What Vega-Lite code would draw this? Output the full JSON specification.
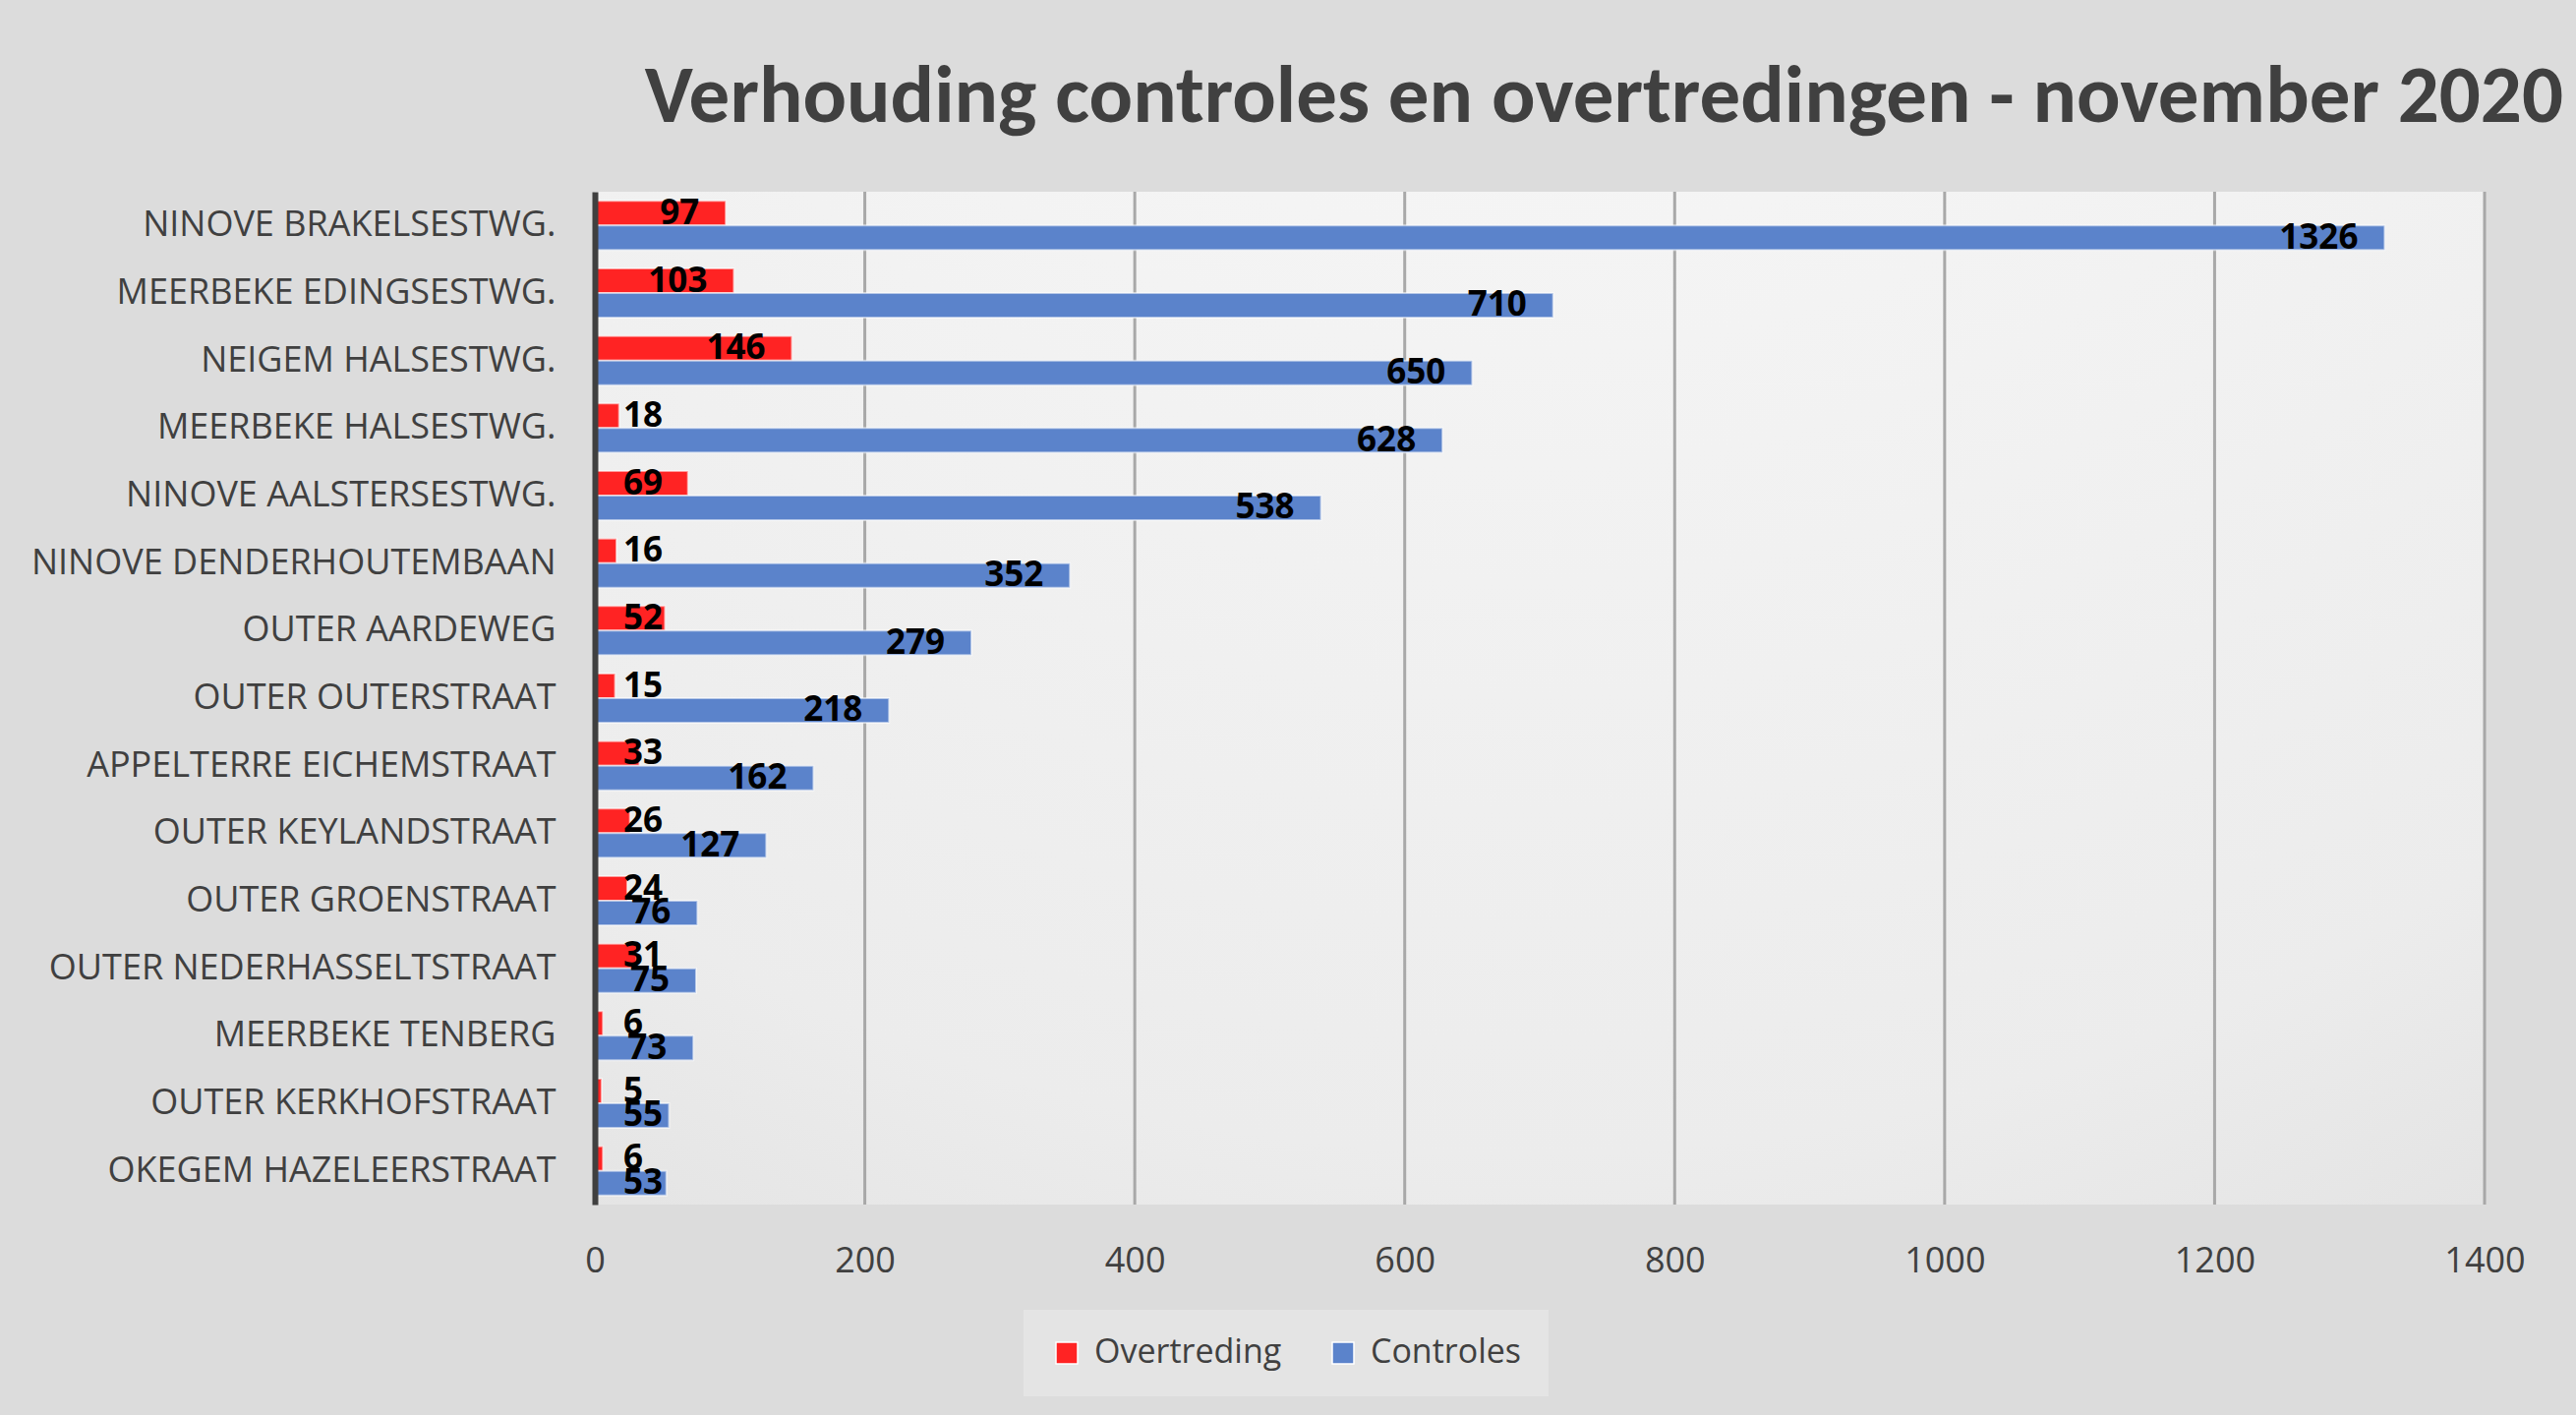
{
  "$schema": "https://vega.github.io/schema/vega-lite/v6.json",
  "width": 1922,
  "height": 1030,
  "autosize": {"type": "none"},
  "padding": {"left": 605, "top": 195, "right": 93, "bottom": 214},
  "background": "#dcdcdc",
  "title": {
    "text": "Verhouding controles en overtredingen  - november 2020",
    "anchor": "end",
    "frame": "group",
    "dx": 80,
    "dy": 83,
    "offset": 70,
    "baseline": "alphabetic",
    "font": "Carlito, Liberation Sans Narrow, Open Sans, sans-serif",
    "fontSize": 83,
    "fontWeight": "bold",
    "color": "#404040"
  },
  "config": {
    "view": {"stroke": null},
    "font": "Open Sans"
  },
  "datasets": {
    "tellingen": [
      {"locatie": "NINOVE BRAKELSESTWG.", "reeks": "Overtreding", "aantal": 97},
      {"locatie": "NINOVE BRAKELSESTWG.", "reeks": "Controles", "aantal": 1326},
      {"locatie": "MEERBEKE EDINGSESTWG.", "reeks": "Overtreding", "aantal": 103},
      {"locatie": "MEERBEKE EDINGSESTWG.", "reeks": "Controles", "aantal": 710},
      {"locatie": "NEIGEM HALSESTWG.", "reeks": "Overtreding", "aantal": 146},
      {"locatie": "NEIGEM HALSESTWG.", "reeks": "Controles", "aantal": 650},
      {"locatie": "MEERBEKE HALSESTWG.", "reeks": "Overtreding", "aantal": 18},
      {"locatie": "MEERBEKE HALSESTWG.", "reeks": "Controles", "aantal": 628},
      {"locatie": "NINOVE AALSTERSESTWG.", "reeks": "Overtreding", "aantal": 69},
      {"locatie": "NINOVE AALSTERSESTWG.", "reeks": "Controles", "aantal": 538},
      {"locatie": "NINOVE DENDERHOUTEMBAAN", "reeks": "Overtreding", "aantal": 16},
      {"locatie": "NINOVE DENDERHOUTEMBAAN", "reeks": "Controles", "aantal": 352},
      {"locatie": "OUTER AARDEWEG", "reeks": "Overtreding", "aantal": 52},
      {"locatie": "OUTER AARDEWEG", "reeks": "Controles", "aantal": 279},
      {"locatie": "OUTER OUTERSTRAAT", "reeks": "Overtreding", "aantal": 15},
      {"locatie": "OUTER OUTERSTRAAT", "reeks": "Controles", "aantal": 218},
      {"locatie": "APPELTERRE EICHEMSTRAAT", "reeks": "Overtreding", "aantal": 33},
      {"locatie": "APPELTERRE EICHEMSTRAAT", "reeks": "Controles", "aantal": 162},
      {"locatie": "OUTER KEYLANDSTRAAT", "reeks": "Overtreding", "aantal": 26},
      {"locatie": "OUTER KEYLANDSTRAAT", "reeks": "Controles", "aantal": 127},
      {"locatie": "OUTER GROENSTRAAT", "reeks": "Overtreding", "aantal": 24},
      {"locatie": "OUTER GROENSTRAAT", "reeks": "Controles", "aantal": 76},
      {"locatie": "OUTER NEDERHASSELTSTRAAT", "reeks": "Overtreding", "aantal": 31},
      {"locatie": "OUTER NEDERHASSELTSTRAAT", "reeks": "Controles", "aantal": 75},
      {"locatie": "MEERBEKE TENBERG", "reeks": "Overtreding", "aantal": 6},
      {"locatie": "MEERBEKE TENBERG", "reeks": "Controles", "aantal": 73},
      {"locatie": "OUTER KERKHOFSTRAAT", "reeks": "Overtreding", "aantal": 5},
      {"locatie": "OUTER KERKHOFSTRAAT", "reeks": "Controles", "aantal": 55},
      {"locatie": "OKEGEM HAZELEERSTRAAT", "reeks": "Overtreding", "aantal": 6},
      {"locatie": "OKEGEM HAZELEERSTRAAT", "reeks": "Controles", "aantal": 53}
    ]
  },
  "data": {"name": "tellingen"},
  "layer": [
    {
      "data": {"values": [{"vlak": "achtergrond"}]},
      "mark": {
        "type": "rect",
        "fill": {
          "gradient": "radial",
          "x1": 0.49, "y1": -0.19, "r1": 0,
          "x2": 0.49, "y2": -0.19, "r2": 1.35,
          "stops": [
            {"offset": 0, "color": "#fdfdfd"},
            {"offset": 0.15, "color": "#f8f8f8"},
            {"offset": 0.69, "color": "#ececec"},
            {"offset": 0.83, "color": "#e2e2e2"},
            {"offset": 1, "color": "#d6d6d6"}
          ]
        }
      },
      "encoding": {}
    },
    {
      "data": {"values": [{"raster": 200}, {"raster": 400}, {"raster": 600}, {"raster": 800}, {"raster": 1000}, {"raster": 1200}, {"raster": 1400}]},
      "mark": {"type": "rule", "color": "#a8a8a8", "strokeWidth": 3},
      "encoding": {
        "x": {"field": "raster", "type": "quantitative"}
      }
    },
    {
      "mark": {"type": "bar", "stroke": "#ffffff", "strokeOpacity": 0.55, "strokeWidth": 2},
      "encoding": {
        "y": {
          "field": "locatie",
          "type": "nominal",
          "sort": null,
          "scale": {"paddingInner": 0.272, "paddingOuter": 0.136},
          "axis": {
            "title": null,
            "domain": true,
            "domainColor": "#404040",
            "domainWidth": 6,
            "ticks": false,
            "grid": false,
            "labelFont": "Open Sans",
            "labelFontSize": 36,
            "labelColor": "#404040",
            "labelPadding": 40,
            "labelLimit": 800,
            "zindex": 1
          }
        },
        "yOffset": {"field": "reeks", "type": "nominal", "sort": ["Overtreding", "Controles"]},
        "x": {
          "field": "aantal",
          "type": "quantitative",
          "scale": {"domain": [0, 1400], "nice": false},
          "axis": {
            "title": null,
            "values": [0, 200, 400, 600, 800, 1000, 1200, 1400],
            "format": "d",
            "grid": false,
            "domain": false,
            "ticks": false,
            "labelFont": "Open Sans",
            "labelFontSize": 36,
            "labelColor": "#404040",
            "labelPadding": 40,
            "labelFlush": false,
            "zindex": 1
          }
        },
        "color": {
          "field": "reeks",
          "type": "nominal",
          "scale": {"domain": ["Overtreding", "Controles"], "range": ["#ff2323", "#5b83cb"]},
          "legend": {
            "orient": "none",
            "legendX": 436,
            "legendY": 1137,
            "direction": "horizontal",
            "title": null,
            "symbolType": "square",
            "symbolSize": 484,
            "symbolStrokeColor": "#ffffff",
            "symbolStrokeWidth": 1.5,
            "symbolOpacity": 1,
            "labelFont": "Open Sans",
            "labelFontSize": 34,
            "labelColor": "#404040",
            "labelLimit": 500,
            "labelOffset": 11,
            "columnPadding": 45,
            "padding": 27,
            "fillColor": "#e4e4e4"
          }
        }
      }
    },
    {
      "transform": [{"filter": "datum.aantal >= 70"}],
      "mark": {"type": "text", "align": "right", "baseline": "middle", "dx": -27, "font": "Open Sans", "fontSize": 35, "fontWeight": "bold", "color": "#000000"},
      "encoding": {
        "y": {"field": "locatie", "type": "nominal", "sort": null},
        "yOffset": {"field": "reeks", "type": "nominal", "sort": ["Overtreding", "Controles"]},
        "x": {"field": "aantal", "type": "quantitative"},
        "text": {"field": "aantal", "type": "quantitative"}
      }
    },
    {
      "transform": [{"filter": "datum.aantal < 70"}],
      "mark": {"type": "text", "align": "left", "baseline": "middle", "dx": 29, "font": "Open Sans", "fontSize": 35, "fontWeight": "bold", "color": "#000000"},
      "encoding": {
        "y": {"field": "locatie", "type": "nominal", "sort": null},
        "yOffset": {"field": "reeks", "type": "nominal", "sort": ["Overtreding", "Controles"]},
        "x": {"datum": 0, "type": "quantitative"},
        "text": {"field": "aantal", "type": "quantitative"}
      }
    }
  ]
}
